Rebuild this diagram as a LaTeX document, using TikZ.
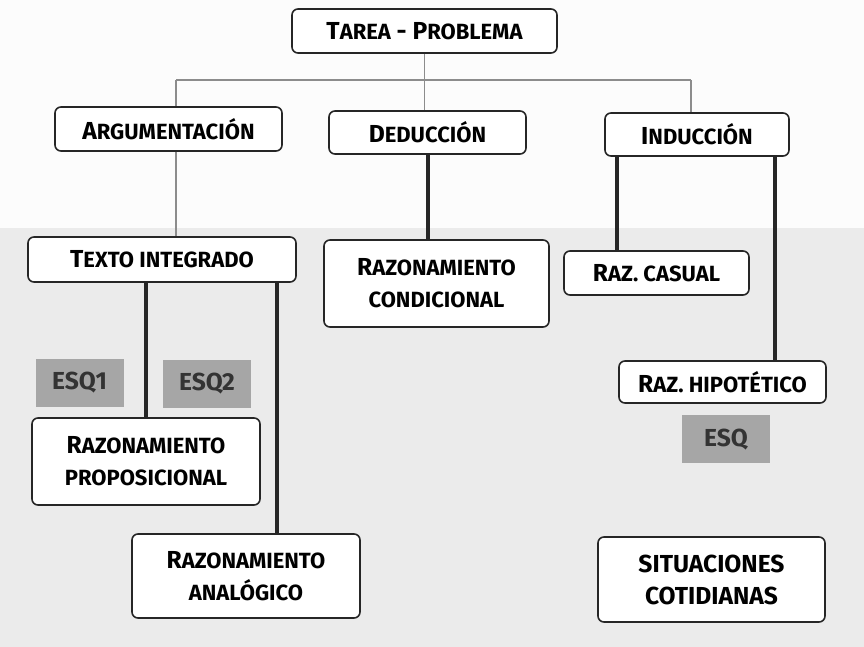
\documentclass[tikz,border=0pt]{standalone}
\usepackage{fontspec}
\setmainfont{Fira Sans}
\usepackage{tikz}
\newcommand\chica[1]{{\fontsize{11}{16}\selectfont #1}}

\begin{document}
\begin{tikzpicture}[x=0.5pt, y=-0.5pt,
    caja/.style={draw=black!85, line width=0.8pt, rounded corners=3pt, fill=white, align=center, inner sep=0pt, font=\bfseries\fontsize{12.3}{16}\selectfont},
    esquema/.style={fill=black!35, inner sep=0pt, minimum width=44pt, minimum height=24pt, text=black!80, font=\bfseries\fontsize{12.3}{14}\selectfont},
    fina/.style={draw=black!45, line width=0.8pt},
    gruesa/.style={draw=black!85, line width=2pt}]
    \useasboundingbox (0,0) rectangle (864,647);
    \fill[black!1] (0,0) rectangle (864,647);
    \fill[black!8] (0,228) rectangle (864,647);

    \node[caja, minimum width=132.5pt, minimum height=22pt] (tarea) at (424.5,31) {T\chica{AREA} - P\chica{ROBLEMA}};
    \node[caja, minimum width=113.5pt, minimum height=22pt] (argumentacion) at (168.5,129) {A\chica{RGUMENTACIÓN}};
    \node[caja, minimum width=98.5pt, minimum height=21.5pt] (deduccion) at (427.5,132.5) {D\chica{EDUCCIÓN}};
    \node[caja, minimum width=92pt, minimum height=21.5pt] (induccion) at (697,134.5) {I\chica{NDUCCIÓN}};
    \node[caja, minimum width=134pt, minimum height=22.5pt] (texto) at (162,259.5) {T\chica{EXTO INTEGRADO}};
    \node[caja, minimum width=112.5pt, minimum height=43.5pt] (condicional) at (436.5,283.5) {R\chica{AZONAMIENTO}\\\chica{CONDICIONAL}};
    \node[caja, minimum width=92.5pt, minimum height=22pt] (casual) at (656.5,273) {R\chica{AZ. CASUAL}};
    \node[caja, minimum width=103.5pt, minimum height=21pt] (hipotetico) at (722.5,382) {R\chica{AZ. HIPOTÉTICO}};
    \node[caja, minimum width=114pt, minimum height=43.5pt] (proposicional) at (146,461.5) {R\chica{AZONAMIENTO}\\\chica{PROPOSICIONAL}};
    \node[caja, minimum width=114pt, minimum height=42pt] (analogico) at (246,576) {R\chica{AZONAMIENTO}\\\chica{ANALÓGICO}};
    \node[caja, minimum width=113.5pt, minimum height=42.5pt] (situaciones) at (711.5,579.5) {SITUACIONES\\COTIDIANAS};
    \node[esquema] (esq1) at (79.5,383) {ESQ1};
    \node[esquema] (esq2) at (207,384) {ESQ2};
    \node[esquema] (esq) at (726,439.5) {ESQ};

    \coordinate (izq) at (176,80);
    \coordinate (der) at (691,80);
    \draw[fina] (tarea.south) -- (tarea.south |- deduccion.north);
    \draw[fina] (izq) -- (der);
    \draw[fina] (izq) -- (izq |- argumentacion.north);
    \draw[fina] (der) -- (der |- induccion.north);
    \draw[fina] (argumentacion.south -| izq) -- (izq |- texto.north);

    \coordinate (ia) at ([xshift=6.5pt]induccion.south west);
    \coordinate (ib) at ([xshift=-7.5pt]induccion.south east);
    \coordinate (tb) at ([xshift=-10pt]texto.south east);
    \draw[gruesa] (deduccion.south) -- (deduccion.south |- condicional.north);
    \draw[gruesa] (ia) -- (ia |- casual.north);
    \draw[gruesa] (ib) -- (ib |- hipotetico.north);
    \draw[gruesa] (proposicional.north) -- (proposicional.north |- texto.south);
    \draw[gruesa] (tb) -- (tb |- analogico.north);
\end{tikzpicture}
\end{document}
